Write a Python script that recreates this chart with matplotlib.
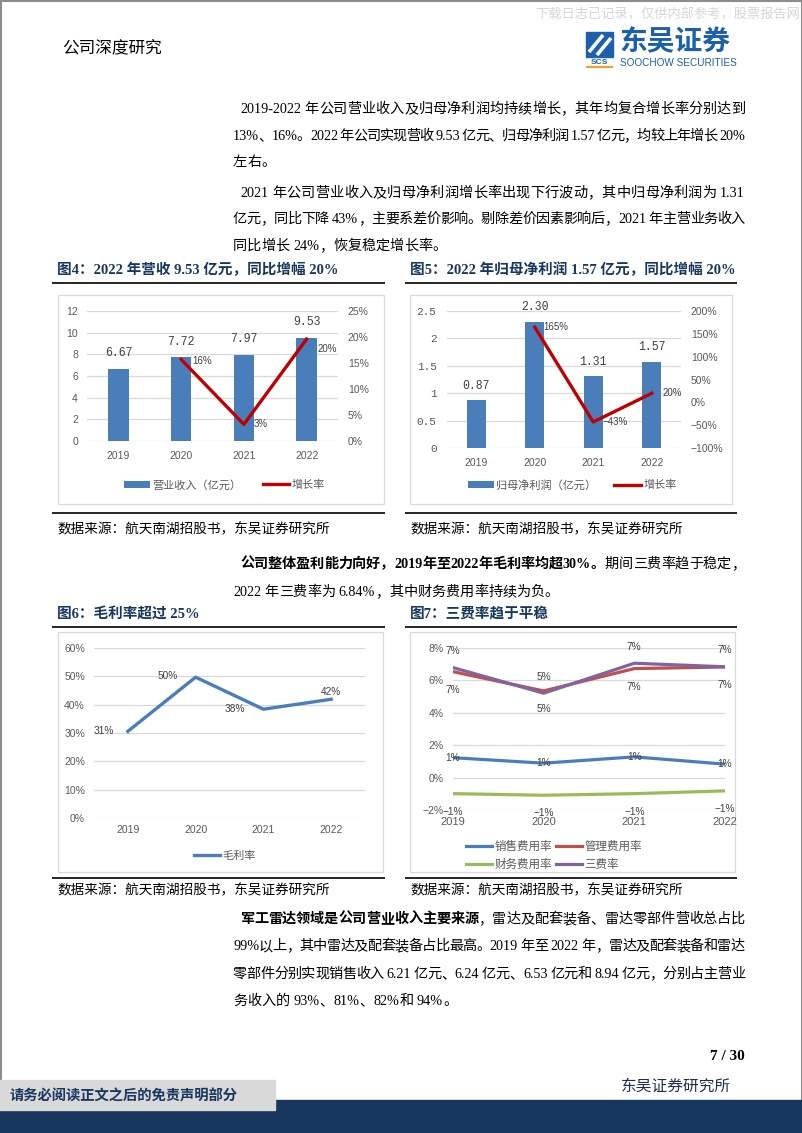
import re

import matplotlib
matplotlib.use('Agg')
import matplotlib.pyplot as plt
from matplotlib.patches import Rectangle
from matplotlib.ticker import FuncFormatter, MultipleLocator

W, H = 802, 1133
SERIF = ['Liberation Serif', 'Noto Sans CJK SC']
SANS = ['Liberation Sans', 'Noto Sans CJK SC']
CJK = ['Noto Sans CJK SC', 'DejaVu Sans']
MONO = ['Liberation Mono', 'DejaVu Sans Mono']
NAVY = '#17375E'
BLUE = '#4A7EBB'
GRID = '#D9D9D9'
TICK = '#595959'
LABEL = '#404040'

plt.rcParams['font.family'] = SANS
plt.rcParams['axes.unicode_minus'] = True

# data read from the page
years = ['2019', '2020', '2021', '2022']
revenue = [6.67, 7.72, 7.97, 9.53]            # 亿元
revenue_growth = [15.7, 3.2, 19.6]            # %, 2020-2022
net_profit = [0.87, 2.30, 1.31, 1.57]         # 亿元
profit_growth = [164.6, -43.0, 19.8]          # %, 2020-2022
gross_margin = [30.6, 49.7, 38.4, 41.9]       # %
sales_rate = [1.23, 0.89, 1.28, 0.83]         # %
admin_rate = [6.54, 5.35, 6.73, 6.83]
finance_rate = [-0.99, -1.09, -0.99, -0.82]
total_rate = [6.79, 5.21, 7.06, 6.84]

fig = plt.figure(figsize=(W / 100, H / 100), dpi=100)
page = fig.add_axes([0, 0, 1, 1])
page.set_xlim(0, W)
page.set_ylim(H, 0)
page.axis('off')
renderer = fig.canvas.get_renderer()


def px_axes(x0, y0, x1, y1):
    return fig.add_axes([x0 / W, 1 - y1 / H, (x1 - x0) / W, (y1 - y0) / H],
                        facecolor='none')


def hline(y, x0, x1, lw=1.2, color='black'):
    page.plot([x0, x1], [y, y], color=color, lw=lw, solid_capstyle='butt')


def box(x0, y0, x1, y1):
    page.add_patch(Rectangle((x0, y0), x1 - x0, y1 - y0, fill=False,
                             ec=GRID, lw=0.9))


TOKEN = re.compile(r'[0-9A-Za-z.\-%/]+| |.')


def para(x0, y, pieces, x1=None, size=10.2):
    """Write one text line at baseline y, spread to x1 when given."""
    toks = []
    for s, bold in pieces:
        toks += [(t, bold) for t in TOKEN.findall(s)]
    widths = []
    for t, bold in toks:
        if t == ' ':
            widths.append(size * 100 / 72 * 0.25)
            continue
        a = page.text(0, 0, t, fontsize=size, family=SERIF,
                      fontweight='bold' if bold else 'normal')
        widths.append(a.get_window_extent(renderer).width)
        a.remove()
    gap = 0
    if x1 is not None and len(toks) > 1:
        gap = (x1 - x0 - sum(widths)) / (len(toks) - 1)
    x = x0
    for (t, bold), w in zip(toks, widths):
        if t != ' ':
            page.text(x, y, t, fontsize=size, family=SERIF, va='baseline',
                      fontweight='bold' if bold else 'normal', color='black')
        x += w + gap


def style(ax, size=7.5):
    for s in ax.spines.values():
        s.set_visible(False)
    ax.tick_params(length=0, labelsize=size, labelcolor=TICK)


def pct(v, _):
    return f'{v:.0f}%'.replace('-', '\u2212')


# ---------- page frame, header, footer ----------
page.add_patch(Rectangle((0.5, 0.5), W - 1, H - 1, fill=False, ec='#8C8C8C', lw=1.5))
page.text(800, 15, '下载日志已记录，仅供内部参考，股票报告网', fontsize=9.5,
          family=CJK, color='#D6D6D6', ha='right', va='center')
page.text(62, 48, '公司深度研究', fontsize=12, family=CJK, va='center')
page.add_patch(Rectangle((586, 32), 27, 25, color='#1B5FAD'))
page.plot([589, 603], [52, 35], color='white', lw=2.6, solid_capstyle='butt')
page.plot([597, 611], [55, 38], color='white', lw=2.6, solid_capstyle='butt')
page.text(599.5, 62, 'SCS', fontsize=6, weight='bold', color='#1B5FAD',
          ha='center', va='center')
hline(67, 586, 613, lw=1.6, color='#F0A030')
page.text(619, 42, '东吴证券', fontsize=20, weight='bold', family=CJK,
          color='#1B5FAD', va='center')
page.text(620, 63, 'SOOCHOW SECURITIES', fontsize=7.2, color='#1B5FAD', va='center')

page.add_patch(Rectangle((0, 1100), W, 33, color=NAVY))
page.add_patch(Rectangle((0, 1080), 275, 30, color='#D9D9D9'))
page.text(10, 1096, '请务必阅读正文之后的免责声明部分', fontsize=10.3, family=SERIF,
          weight='bold', color=NAVY, va='center')
page.text(745, 1057, '7 / 30', fontsize=11, family=SERIF, weight='bold',
          ha='right', va='center')
page.text(621, 1087, '东吴证券研究所', fontsize=11.3, family=SERIF, color='#1F2D4D',
          va='center')

# ---------- body text ----------
R = 745
para(240, 113, [('2019-2022 年公司营业收入及归母净利润均持续增长，其年均复合增长率分别达到', False)], R)
para(233, 140, [('13%、16%。2022 年公司实现营收 9.53 亿元、归母净利润 1.57 亿元，均较上年增长 20%', False)], R)
para(233, 166, [('左右。', False)])
para(240, 197, [('2021 年公司营业收入及归母净利润增长率出现下行波动，其中归母净利润为 1.31', False)], R)
para(233, 223, [('亿元，同比下降 43%，主要系差价影响。剔除差价因素影响后，2021 年主营业务收入', False)], R)
para(233, 250, [('同比增长 24%，恢复稳定增长率。', False)])

para(240, 568, [('公司整体盈利能力向好，2019年至2022年毛利率均超30%。', True),
                ('期间三费率趋于稳定，', False)], R)
para(233, 596, [('2022 年三费率为 6.84%，其中财务费用率持续为负。', False)])

para(240, 923, [('军工雷达领域是公司营业收入主要来源', True),
                ('，雷达及配套装备、雷达零部件营收总占比', False)], R)
para(233, 950, [('99%以上，其中雷达及配套装备占比最高。2019 年至 2022 年，雷达及配套装备和雷达', False)], R)
para(233, 978, [('零部件分别实现销售收入 6.21 亿元、6.24 亿元、6.53 亿元和 8.94 亿元，分别占主营业', False)], R)
para(233, 1005, [('务收入的 93%、81%、82%和 94%。', False)])

# ---------- chart titles, frames, sources ----------
titles = [(57, 270, '图4：2022 年营收 9.53 亿元，同比增幅 20%'),
          (410, 270, '图5：2022 年归母净利润 1.57 亿元，同比增幅 20%'),
          (57, 614, '图6：毛利率超过 25%'),
          (410, 614, '图7：三费率趋于平稳')]
for x, y, s in titles:
    page.text(x, y, s, fontsize=10.5, family=SERIF, weight='bold', color=NAVY,
              va='center')
for y in (283, 627):
    hline(y, 52, 385)
    hline(y, 405, 737)
for y in (513, 878):
    hline(y, 52, 385, lw=1.4, color='#262626')
    hline(y, 405, 737, lw=1.4, color='#262626')
for y in (530, 891):
    page.text(57, y, '数据来源：航天南湖招股书，东吴证券研究所', fontsize=9.8,
              family=SERIF, va='center')
    page.text(410, y, '数据来源：航天南湖招股书，东吴证券研究所', fontsize=9.8,
              family=SERIF, va='center')
box(58, 295, 384, 504)
box(410, 295, 732, 504)
box(58, 632, 383, 872)
box(410, 632, 735, 872)

x = list(range(4))

# ---------- 图4 ----------
ax4 = px_axes(87, 311, 338, 441)
style(ax4)
bars4 = ax4.bar(x, revenue, width=0.33, color=BLUE, zorder=2)
ax4.set_xlim(-0.5, 3.5)
ax4.set_ylim(0, 12)
ax4.yaxis.set_major_locator(MultipleLocator(2))
ax4.set_xticks(x, years)
ax4.grid(axis='y', color=GRID, lw=0.9)
ax4.set_axisbelow(True)
ax4.tick_params(axis='y', pad=6.5)
ax4.tick_params(axis='x', pad=7)
for i, v in enumerate(revenue):
    ax4.annotate(f'{v:.2f}', (i, v), xytext=(0, 11), textcoords='offset points',
                 ha='center', va='center', fontsize=8.3, family=MONO, color=LABEL)
g4 = ax4.twinx()
style(g4)
line4, = g4.plot(x[1:], revenue_growth, color='#C00000', lw=2.4)
g4.set_ylim(0, 25)
g4.yaxis.set_major_locator(MultipleLocator(5))
g4.yaxis.set_major_formatter(FuncFormatter(pct))
g4.tick_params(axis='y', pad=7)
for i, v, (dx, dy) in zip(x[1:], revenue_growth, [(8, -1), (7, 0), (8, -7)]):
    g4.annotate(pct(v, 0), (i, v), xytext=(dx, dy), textcoords='offset points',
                ha='left', va='center', fontsize=7, color=LABEL)
fig.legend([bars4, line4], ['营业收入（亿元）', '增长率'], loc='center left',
           bbox_to_anchor=(118 / W, 1 - 485 / H), frameon=False, ncol=2,
           fontsize=8, handlelength=2.4, handletextpad=0.2, columnspacing=1.9,
           borderpad=0, labelcolor=TICK)

# ---------- 图5 ----------
ax5 = px_axes(447, 311, 681, 448)
style(ax5)
bars5 = ax5.bar(x, net_profit, width=0.33, color=BLUE, zorder=2)
ax5.set_xlim(-0.5, 3.5)
ax5.set_ylim(0, 2.5)
ax5.yaxis.set_major_locator(MultipleLocator(0.5))
ax5.yaxis.set_major_formatter(FuncFormatter(lambda v, _: f'{v:g}'))
ax5.set_xticks(x, years)
ax5.grid(axis='y', color=GRID, lw=0.9)
ax5.set_axisbelow(True)
ax5.tick_params(axis='y', pad=7.5)
ax5.tick_params(axis='x', pad=7)
for lbl in ax5.get_yticklabels():
    lbl.set_family(MONO)
    lbl.set_fontsize(8)
for i, v in enumerate(net_profit):
    ax5.annotate(f'{v:.2f}', (i, v), xytext=(0, 10.5), textcoords='offset points',
                 ha='center', va='center', fontsize=8.3, family=MONO, color=LABEL)
g5 = ax5.twinx()
style(g5)
line5, = g5.plot(x[1:], profit_growth, color='#C00000', lw=2.4)
g5.set_ylim(-100, 200)
g5.yaxis.set_major_locator(MultipleLocator(50))
g5.yaxis.set_major_formatter(FuncFormatter(pct))
g5.tick_params(axis='y', pad=7)
for i, v, (dx, dy) in zip(x[1:], profit_growth, [(6, 0), (7, 0), (8, 0)]):
    g5.annotate(pct(v, 0), (i, v), xytext=(dx, dy), textcoords='offset points',
                ha='left', va='center', fontsize=7, color=LABEL)
fig.legend([bars5, line5], ['归母净利润（亿元）', '增长率'], loc='center left',
           bbox_to_anchor=(462 / W, 1 - 485 / H), frameon=False, ncol=2,
           fontsize=8, handlelength=2.4, handletextpad=0.2, columnspacing=1.6,
           borderpad=0, labelcolor=TICK)

# ---------- 图6 ----------
ax6 = px_axes(94, 648, 365, 818)
style(ax6)
line6, = ax6.plot(x, gross_margin, color=BLUE, lw=2.4)
ax6.set_xlim(-0.5, 3.5)
ax6.set_ylim(0, 60)
ax6.yaxis.set_major_locator(MultipleLocator(10))
ax6.yaxis.set_major_formatter(FuncFormatter(pct))
ax6.set_xticks(x, years)
ax6.grid(axis='y', color=GRID, lw=0.9)
ax6.tick_params(axis='y', pad=6.5)
ax6.tick_params(axis='x', pad=5)
offs6 = [(-10, 0, 'right'), (-13, 1, 'right'), (-13, 0, 'right'), (0, 5, 'center')]
for i, v, (dx, dy, ha) in zip(x, gross_margin, offs6):
    ax6.annotate(pct(v, 0), (i, v), xytext=(dx, dy), textcoords='offset points',
                 ha=ha, va='center', fontsize=7.3, color=LABEL)
fig.legend([line6], ['毛利率'], loc='center left',
           bbox_to_anchor=(188 / W, 1 - 856 / H), frameon=False, fontsize=8,
           handlelength=2.4, handletextpad=0.2, borderpad=0, labelcolor=TICK)

# ---------- 图7 ----------
ax7 = px_axes(453, 648, 725, 810)
style(ax7)
l_sales, = ax7.plot(x, sales_rate, color='#4A7EBB', lw=2.3)
l_admin, = ax7.plot(x, admin_rate, color='#C0504D', lw=2.3)
l_fin, = ax7.plot(x, finance_rate, color='#9BBB59', lw=2.3)
l_tot, = ax7.plot(x, total_rate, color='#8064A2', lw=2.3)
ax7.set_xlim(0, 3)
ax7.set_ylim(-2, 8)
ax7.yaxis.set_major_locator(MultipleLocator(2))
ax7.yaxis.set_major_formatter(FuncFormatter(pct))
ax7.set_xticks(x, years)
ax7.grid(axis='y', color=GRID, lw=0.9)
ax7.tick_params(axis='y', pad=7)
ax7.tick_params(axis='x', pad=5, labelsize=8)
for series, dy in [(total_rate, 12), (admin_rate, -13), (sales_rate, 0),
                   (finance_rate, -13)]:
    for i, v in enumerate(series):
        ax7.annotate(pct(v, 0), (i, v), xytext=(0, dy), textcoords='offset points',
                     ha='center', va='center', fontsize=7.3, color=LABEL,
                     annotation_clip=False)
fig.legend([l_sales, l_fin, l_admin, l_tot],
           ['销售费用率', '财务费用率', '管理费用率', '三费率'], loc='center left',
           bbox_to_anchor=(460 / W, 1 - 856 / H), frameon=False, ncol=2,
           fontsize=8.3, handlelength=2.3, handletextpad=0.2, columnspacing=0.3,
           labelspacing=0.55, borderpad=0, labelcolor=TICK)

fig.savefig('out.png', dpi=100)
